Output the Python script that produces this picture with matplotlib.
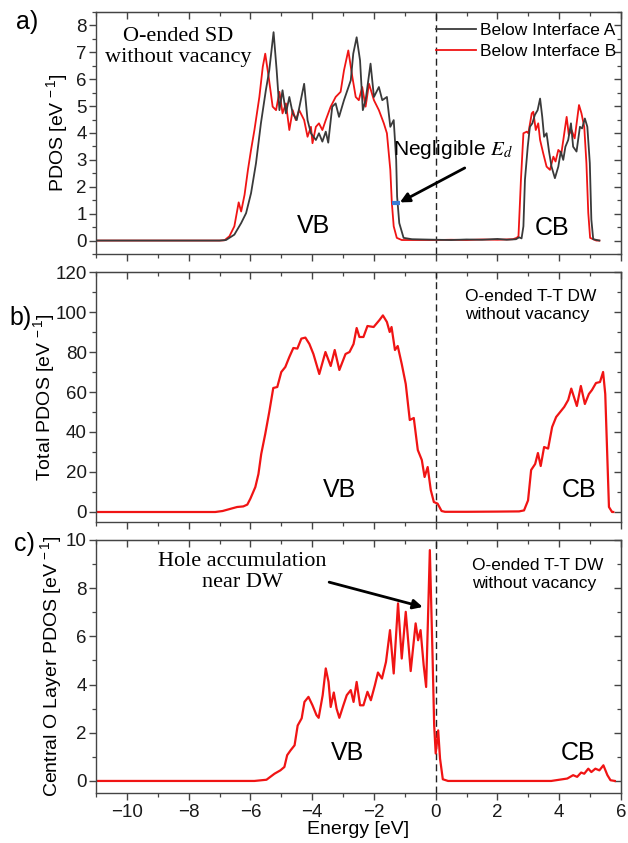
import matplotlib
matplotlib.use("Agg")
import matplotlib.pyplot as plt
from matplotlib.ticker import MultipleLocator

plt.rcParams['font.family'] = ['Liberation Sans', 'DejaVu Sans']
plt.rcParams['mathtext.fontset'] = 'custom'
plt.rcParams['mathtext.rm'] = 'Liberation Sans'
plt.rcParams['mathtext.it'] = 'Liberation Sans:italic'
plt.rcParams['mathtext.bf'] = 'Liberation Sans:bold'

# ---------------- data ----------------
# Panel a: Below Interface A (black)
a_x_A = [-11, -7.0, -6.79, -6.52, -6.30, -6.14, -5.98, -5.82, -5.66, -5.50, -5.39, -5.25, -5.15,
         -5.06, -4.96, -4.85, -4.74, -4.63, -4.50, -4.26, -4.15, -4.04, -3.88, -3.78, -3.67,
         -3.56, -3.48, -3.35, -3.24, -3.13, -2.97, -2.86, -2.75, -2.67, -2.56, -2.45, -2.36,
         -2.27, -2.11, -2.00, -1.84, -1.73, -1.58, -1.47, -1.36, -1.28, -1.25, -1.18, -1.04,
         -0.77, -0.4, 0.0, 0.5, 1.0, 1.5, 2.0, 2.3, 2.6, 2.7, 2.78, 2.84, 2.89, 2.98, 3.05, 3.13,
         3.21, 3.30, 3.38, 3.45, 3.51, 3.59, 3.67, 3.75, 3.86, 3.97, 4.05, 4.13, 4.20, 4.29,
         4.38, 4.45, 4.56, 4.67, 4.74, 4.83, 4.91, 4.99, 5.04, 5.10, 5.3]
a_y_A = [0, 0, 0.02, 0.22, 0.65, 1.02, 1.76, 2.87, 4.36, 5.59, 6.33, 7.75, 6.33,
         4.85, 5.59, 4.73, 5.34, 4.73, 4.48, 5.83, 4.48, 3.99, 3.74, 3.99, 3.68,
         4.05, 3.64, 4.98, 5.10, 4.60, 5.22, 5.59, 5.96, 6.95, 7.56, 6.70, 4.85,
         5.22, 6.58, 5.34, 5.71, 5.22, 5.34, 4.23, 4.48, 3.0, 1.64, 0.65, 0.10,
         0.05, 0.04, 0.03, 0.02, 0.04, 0.03, 0.06, 0.03, 0.05, 0.12, 0.08, 0.53, 2.26, 3.49, 4.23, 4.36,
         4.67, 4.85, 5.28, 4.60, 3.86, 3.99, 3.31, 2.75, 2.32, 2.75, 3.31, 3.0, 3.49, 3.74,
         4.36, 3.49, 3.31, 4.23, 4.17, 4.54, 4.23, 2.88, 0.78, 0.05, 0.0]

# Panel a: Below Interface B (red)
a_x_B = [-11, -7.0, -6.84, -6.68, -6.52, -6.38, -6.30, -6.19, -6.08, -5.98, -5.87, -5.71, -5.60,
         -5.52, -5.41, -5.28, -5.17, -5.06, -4.96, -4.85, -4.74, -4.63, -4.53, -4.42, -4.26,
         -4.15, -4.04, -3.99, -3.88, -3.78, -3.67, -3.56, -3.40, -3.24, -3.08, -2.97, -2.83,
         -2.70, -2.59, -2.49, -2.38, -2.27, -2.16, -2.00, -1.84, -1.68, -1.58, -1.47, -1.42,
         -1.36, -1.26, -1.10, -0.5, 0.0, 0.5, 1.0, 1.5, 2.0, 2.5, 2.62, 2.68, 2.76, 2.84, 2.95,
         3.0, 3.11, 3.16, 3.24, 3.32, 3.38, 3.48, 3.59, 3.70, 3.81, 3.88, 3.97, 4.07, 4.24,
         4.31, 4.40, 4.50, 4.64, 4.72, 4.81, 4.88, 4.94, 5.0, 5.2, 5.3]
a_y_B = [0, 0, 0.01, 0.16, 0.53, 1.42, 1.08, 1.70, 2.63, 3.37, 4.11, 5.34, 6.46,
         6.95, 6.09, 4.98, 4.85, 5.53, 4.73, 5.10, 4.11, 4.85, 4.48, 4.85, 4.48,
         3.86, 4.23, 3.62, 4.23, 4.36, 4.11, 4.48, 4.98, 5.34, 5.53, 6.33, 7.07,
         6.09, 5.34, 5.22, 5.71, 4.98, 5.83, 5.22, 4.85, 4.36, 3.99, 2.63, 1.40,
         0.53, 0.10, 0.02, 0.02, 0.02, 0.03, 0.02, 0.04, 0.03, 0.05, 0.1, 0.16, 2.26, 3.99, 4.05,
         3.99, 4.73, 4.79, 4.11, 4.36, 3.74, 3.25, 2.75, 2.63, 3.12, 2.94, 3.37, 3.25, 4.60,
         3.93, 4.11, 3.80, 5.04, 4.73, 4.23, 2.88, 1.03, 0.10, 0.0, 0.0]

# Panel b: Total PDOS
b_x = [-11, -7.14, -6.9, -6.62, -6.43, -6.23, -6.10, -6.00, -5.84, -5.74, -5.65, -5.52, -5.39,
       -5.26, -5.13, -5.00, -4.87, -4.74, -4.61, -4.48, -4.35, -4.22, -4.09, -3.96, -3.77,
       -3.57, -3.40, -3.27, -3.12, -2.92, -2.79, -2.66, -2.56, -2.47, -2.34, -2.21, -2.01,
       -1.82, -1.71, -1.58, -1.49, -1.43, -1.32, -1.23, -1.10, -0.97, -0.84, -0.71, -0.58,
       -0.45, -0.36, -0.26, -0.16, -0.06, 0.06, 0.19, 0.3, 1.0, 2.0, 2.7, 2.86, 2.99, 3.09,
       3.22, 3.31, 3.40, 3.51, 3.64, 3.77, 3.90, 4.03, 4.16, 4.29, 4.39, 4.57, 4.70, 4.83,
       4.96, 5.06, 5.19, 5.32, 5.42, 5.49, 5.56, 5.61, 5.71, 5.75]
b_y = [0, 0, 0.5, 1.7, 2.5, 2.8, 3.7, 6.7, 12.5, 19, 29, 39, 50,
       62, 62.5, 70, 72.5, 77.5, 82, 81.7, 86.7, 87.2, 84, 79, 69,
       80, 73, 81, 71, 79, 80, 84, 92, 87.5, 87.5, 93, 92.5,
       96, 98.3, 95, 90, 92.5, 81, 83, 74, 64, 46, 47, 31,
       26, 17.5, 22.5, 11, 5, 4.2, 0.5, 0.1, 0.1, 0.2, 0.3, 0.8, 5.8, 21,
       24, 29.5, 23, 32.5, 31.7, 42.5, 47.5, 50, 52.5, 56, 61.7, 53, 63, 54,
       59, 61, 64.5, 65, 70, 59, 26, 2.5, 0, 0]

# Panel c: Central O layer PDOS
c_x = [-11, -5.87, -5.48, -5.22, -5.03, -4.90, -4.81, -4.70, -4.57, -4.47, -4.34, -4.25, -4.12,
       -3.99, -3.86, -3.79, -3.66, -3.56, -3.47, -3.40, -3.30, -3.21, -3.12, -2.99, -2.88,
       -2.75, -2.66, -2.56, -2.45, -2.34, -2.21, -2.10, -1.97, -1.87, -1.74, -1.61, -1.48,
       -1.36, -1.22, -1.10, -0.97, -0.81, -0.65, -0.57, -0.49, -0.39, -0.31, -0.19, -0.10,
       -0.05, 0.0, 0.08, 0.14, 0.23, 0.4, 2.0, 3.74, 4.26, 4.45, 4.58, 4.71, 4.81, 4.94, 5.04,
       5.17, 5.30, 5.43, 5.56, 5.66, 5.8]
c_y = [0, 0, 0.05, 0.3, 0.44, 0.58, 1.07, 1.27, 1.48, 2.3, 2.6, 3.28, 3.49,
       3.14, 2.73, 2.62, 3.56, 4.67, 4.11, 3.07, 3.67, 3.0, 2.62, 3.14, 3.56,
       3.77, 3.28, 4.11, 3.14, 3.14, 3.70, 3.35, 3.97, 4.50, 4.25, 4.94, 6.26,
       4.46, 7.37, 5.08, 7.02, 4.56, 6.54, 5.84, 6.26, 4.81, 3.9, 9.58, 5.08,
       2.31, 1.14, 2.1, 0.93, 0.07, 0.0, 0.0, 0.0, 0.1, 0.24, 0.17, 0.35, 0.3, 0.51, 0.37,
       0.51, 0.44, 0.65, 0.24, 0.03, 0.0]

x_ticks = [-10, -8, -6, -4, -2, 0, 2, 4, 6]
legend_labels = ["Below Interface A", "Below Interface B"]
marker_Ed_x = [-1.42, -1.17]
marker_Ed_y = 1.40

# ---------------- figure ----------------
fig = plt.figure(figsize=(6.28, 8.43), dpi=100)
L, W = 96 / 628, 525 / 628
ax_a = fig.add_axes([L, 1 - 254 / 843, W, 242 / 843])
ax_b = fig.add_axes([L, 1 - 522 / 843, W, 250 / 843])
ax_c = fig.add_axes([L, 1 - 793 / 843, W, 253 / 843])

RED = '#f01414'
BLK = '#3a3a3a'
SPC = '#444444'


def style(ax, ylim, ymaj, ymin, show_x):
    ax.set_xlim(-11, 6)
    ax.set_ylim(*ylim)
    ax.set_xticks(x_ticks)
    ax.xaxis.set_minor_locator(MultipleLocator(1))
    ax.yaxis.set_major_locator(MultipleLocator(ymaj))
    ax.yaxis.set_minor_locator(MultipleLocator(ymin))
    ax.tick_params(which='major', direction='out', length=5, width=1, pad=1.5,
                   labelsize=13.5, color=SPC, labelcolor='#1a1a1a')
    ax.tick_params(which='minor', direction='out', length=3, width=0.9, color=SPC)
    ax.tick_params(axis='x', labelbottom=show_x, pad=3)
    for s in ax.spines.values():
        s.set_color(SPC)
        s.set_linewidth(1.0)
    top = ax.secondary_xaxis('top')
    top.set_xticks(x_ticks)
    top.xaxis.set_minor_locator(MultipleLocator(1))
    top.tick_params(which='major', direction='in', length=5, width=1, color=SPC, labeltop=False)
    top.tick_params(which='minor', direction='in', length=3, width=0.9, color=SPC)
    top.spines['top'].set_color(SPC)
    right = ax.secondary_yaxis('right')
    right.yaxis.set_major_locator(MultipleLocator(ymaj))
    right.yaxis.set_minor_locator(MultipleLocator(ymin))
    right.tick_params(which='major', direction='in', length=5, width=1, color=SPC, labelright=False)
    right.tick_params(which='minor', direction='in', length=3, width=0.9, color=SPC)
    right.spines['right'].set_color(SPC)
    ax.axvline(0, color='#222222', lw=1.0, ls=(0, (5, 3)), zorder=1)


# Panel a
style(ax_a, (-0.5, 8.5), 1, 0.5, False)
la, = ax_a.plot(a_x_A, a_y_A, color=BLK, lw=1.3, zorder=3)
lb, = ax_a.plot(a_x_B, a_y_B, color=RED, lw=1.3, zorder=2)
ax_a.legend([la, lb], legend_labels, loc='upper left', bbox_to_anchor=(0.648, 0.955),
            frameon=False, fontsize=12.5, borderpad=0, borderaxespad=0, handlelength=2.3,
            handletextpad=0.25, labelspacing=0.35)
ax_a.hlines(marker_Ed_y, marker_Ed_x[0], marker_Ed_x[1], color='#3a7bd5', lw=3, zorder=4)
ax_a.text(-8.35, 7.2, "O-ended SD\nwithout vacancy", family='Liberation Serif', fontsize=16,
          ha='center', va='center', multialignment='center', linespacing=1.15)
ax_a.text(-3.97, 0.55, "VB", fontsize=18, ha='center', va='center')
ax_a.text(3.77, 0.48, "CB", fontsize=18, ha='center', va='center')
ax_a.text(-1.39, 3.37, r"Negligible $E_d$", fontsize=15, ha='left', va='center',
          math_fontfamily='stix')
ax_a.annotate("", xy=(-1.16, 1.42), xytext=(0.94, 2.7),
              arrowprops=dict(arrowstyle='-|>', color='black', lw=2, mutation_scale=14,
                              shrinkA=0, shrinkB=0))
ax_a.set_ylabel(r"PDOS [eV$^{\,-1}$]", fontsize=14)
ax_a.yaxis.set_label_coords(-0.0495, 0.5)

# Panel b
style(ax_b, (-5, 120), 20, 10, False)
ax_b.plot(b_x, b_y, color=RED, lw=1.6, zorder=2)
ax_b.text(0.94, 103.5, "O-ended T-T DW\nwithout vacancy", fontsize=12.5, ha='left', va='center',
          linespacing=1.25)
ax_b.text(-3.13, 10.8, "VB", fontsize=18, ha='center', va='center')
ax_b.text(4.65, 10.8, "CB", fontsize=18, ha='center', va='center')
ax_b.set_ylabel(r"Total PDOS [eV$^{\,-1}$]", fontsize=14)
ax_b.yaxis.set_label_coords(-0.0743, 0.5)

# Panel c
style(ax_c, (-0.5, 10), 2, 1, True)
ax_c.plot(c_x, c_y, color=RED, lw=1.6, zorder=2)
ax_c.text(-6.26, 8.69, "Hole accumulation\nnear DW", family='Liberation Serif', fontsize=16,
          ha='center', va='center', multialignment='center', linespacing=1.15)
ax_c.annotate("", xy=(-0.42, 7.22), xytext=(-3.45, 8.25),
              arrowprops=dict(arrowstyle='-|>', color='black', lw=2, mutation_scale=14,
                              shrinkA=0, shrinkB=0))
ax_c.text(1.19, 8.55, "O-ended T-T DW\nwithout vacancy", fontsize=12.5, ha='left', va='center',
          linespacing=1.25)
ax_c.text(-2.87, 1.15, "VB", fontsize=18, ha='center', va='center')
ax_c.text(4.61, 1.15, "CB", fontsize=18, ha='center', va='center')
ax_c.set_ylabel(r"Central O Layer PDOS [eV$^{\,-1}$]", fontsize=14)
ax_c.yaxis.set_label_coords(-0.061, 0.5)
ax_c.set_xlabel("Energy [eV]", fontsize=14)
ax_c.xaxis.set_label_coords(0.5, -0.11)

# panel letters
fig.text(16 / 628, 1 - 22 / 843, "a)", fontsize=18, ha='left', va='center')
fig.text(9 / 628, 1 - 318 / 843, "b)", fontsize=18, ha='left', va='center')
fig.text(14 / 628, 1 - 544 / 843, "c)", fontsize=18, ha='left', va='center')

fig.savefig("out.png", dpi=100)
